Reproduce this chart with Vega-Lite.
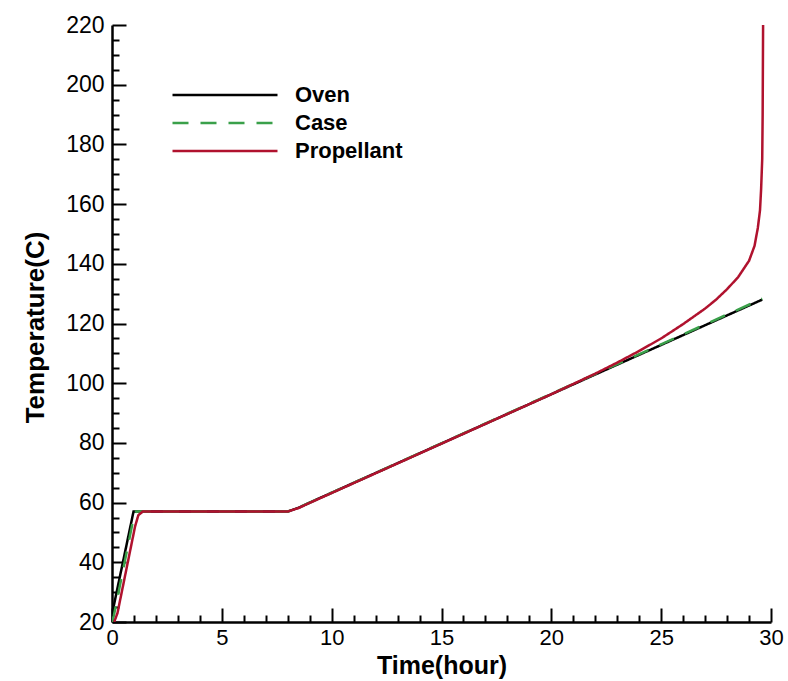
{
  "$schema": "https://vega.github.io/schema/vega-lite/v6.json",
  "autosize": {"type": "none"},
  "padding": {"left": 112, "top": 25, "right": 17, "bottom": 59},
  "width": 659,
  "height": 597,
  "background": "white",
  "config": {"view": {"stroke": null}},
  "data": {"values": [
    {"series": "Oven", "t": 0, "T": 20},
    {"series": "Oven", "t": 0.04, "T": 24},
    {"series": "Oven", "t": 0.98, "T": 57},
    {"series": "Oven", "t": 8, "T": 57},
    {"series": "Oven", "t": 8.5, "T": 58.3},
    {"series": "Oven", "t": 9, "T": 60},
    {"series": "Oven", "t": 29.6, "T": 128},
    {"series": "Case", "t": 0, "T": 20},
    {"series": "Case", "t": 0.08, "T": 22},
    {"series": "Case", "t": 1.0, "T": 55.5},
    {"series": "Case", "t": 1.1, "T": 57},
    {"series": "Case", "t": 8, "T": 57},
    {"series": "Case", "t": 8.5, "T": 58.3},
    {"series": "Case", "t": 9, "T": 60},
    {"series": "Case", "t": 29.6, "T": 128.3},
    {"series": "Propellant", "t": 0.1, "T": 20},
    {"series": "Propellant", "t": 0.25, "T": 23},
    {"series": "Propellant", "t": 1.05, "T": 52},
    {"series": "Propellant", "t": 1.2, "T": 55.8},
    {"series": "Propellant", "t": 1.4, "T": 57},
    {"series": "Propellant", "t": 8, "T": 57},
    {"series": "Propellant", "t": 8.5, "T": 58.2},
    {"series": "Propellant", "t": 9, "T": 59.9},
    {"series": "Propellant", "t": 20, "T": 96.3},
    {"series": "Propellant", "t": 22, "T": 103.2},
    {"series": "Propellant", "t": 23, "T": 106.9},
    {"series": "Propellant", "t": 24, "T": 110.8},
    {"series": "Propellant", "t": 25, "T": 115},
    {"series": "Propellant", "t": 26, "T": 119.8},
    {"series": "Propellant", "t": 27, "T": 125},
    {"series": "Propellant", "t": 27.5, "T": 128},
    {"series": "Propellant", "t": 28, "T": 131.5},
    {"series": "Propellant", "t": 28.5, "T": 135.5},
    {"series": "Propellant", "t": 29, "T": 141},
    {"series": "Propellant", "t": 29.25, "T": 146},
    {"series": "Propellant", "t": 29.4, "T": 152},
    {"series": "Propellant", "t": 29.5, "T": 158},
    {"series": "Propellant", "t": 29.55, "T": 165},
    {"series": "Propellant", "t": 29.6, "T": 175},
    {"series": "Propellant", "t": 29.62, "T": 190},
    {"series": "Propellant", "t": 29.63, "T": 205},
    {"series": "Propellant", "t": 29.64, "T": 220}
  ]},
  "mark": {"type": "line", "strokeWidth": 2.5, "clip": true},
  "encoding": {
    "x": {
      "field": "t", "type": "quantitative",
      "scale": {"domain": [0, 30], "nice": false, "zero": false},
      "axis": {
        "title": "Time(hour)",
        "values": [0,1,2,3,4,5,6,7,8,9,10,11,12,13,14,15,16,17,18,19,20,21,22,23,24,25,26,27,28,29,30],
        "labelExpr": "datum.value % 5 === 0 ? datum.label : ''",
        "grid": false,
        "domainColor": "black", "domainWidth": 2.5,
        "tickColor": "black", "tickWidth": 2,
        "tickSize": {"condition": {"test": "datum.value % 5 === 0", "value": -14}, "value": -7},
        "labelPadding": 19,
        "labelFont": "Liberation Sans", "labelFontSize": 22, "labelColor": "black",
        "labelFlush": false, "labelOverlap": false,
        "titleFont": "Liberation Sans", "titleFontSize": 25, "titleFontWeight": "bold", "titleColor": "black",
        "titleBaseline": "alphabetic", "titleY": 51, "titleX": 329.5
      }
    },
    "y": {
      "field": "T", "type": "quantitative",
      "scale": {"domain": [20, 220], "nice": false, "zero": false},
      "axis": {
        "title": "Temperature(C)",
        "values": [20,25,30,35,40,45,50,55,60,65,70,75,80,85,90,95,100,105,110,115,120,125,130,135,140,145,150,155,160,165,170,175,180,185,190,195,200,205,210,215,220],
        "labelExpr": "datum.value % 20 === 0 ? datum.label : ''",
        "grid": false,
        "domainColor": "black", "domainWidth": 2.5,
        "tickColor": "black", "tickWidth": 2,
        "tickSize": {"condition": {"test": "datum.value % 20 === 0", "value": -14}, "value": -7},
        "labelPadding": 22,
        "labelFont": "Liberation Sans", "labelFontSize": 23, "labelColor": "black",
        "labelFlush": false, "labelOverlap": false,
        "titleFont": "Liberation Sans", "titleFontSize": 26, "titleFontWeight": "bold", "titleColor": "black",
        "titlePadding": 17, "titleY": 302
      }
    },
    "color": {
      "field": "series", "type": "nominal",
      "scale": {"domain": ["Oven", "Case", "Propellant"], "range": ["#000000", "#3aa04a", "#b0122e"]},
      "legend": {
        "title": null, "orient": "none", "legendX": 101, "legendY": 58,
        "padding": 0, "symbolType": "M-5,0H5", "symbolSize": 441, "symbolStrokeWidth": 2.5,
        "labelFont": "Liberation Sans", "labelFontSize": 22, "labelFontWeight": "bold", "labelColor": "black",
        "labelOffset": 58, "rowPadding": 5
      }
    },
    "strokeDash": {
      "field": "series", "type": "nominal",
      "scale": {"domain": ["Oven", "Case", "Propellant"], "range": [[1, 0], [16, 12], [1, 0]]}
    },
    "order": {"field": "t", "type": "quantitative"}
  }
}
